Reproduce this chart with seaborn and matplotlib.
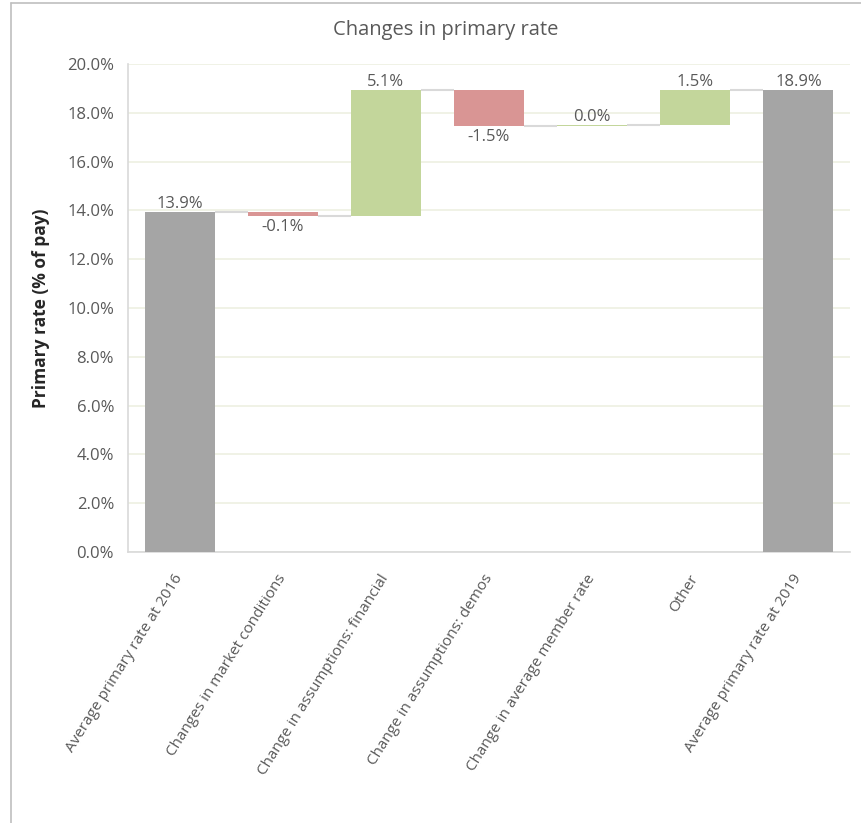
import matplotlib
matplotlib.use("Agg")
import matplotlib.pyplot as plt
import matplotlib.transforms as mtransforms
import seaborn as sns
import numpy as np
import pandas as pd
from matplotlib.lines import Line2D

categories = [
    "Average primary rate at 2016",
    "Changes in market conditions",
    "Change in assumptions: financial",
    "Change in assumptions: demos",
    "Change in average member rate",
    "Other",
    "Average primary rate at 2019",
]
start_value = 13.92
changes = [-0.14, 5.14, -1.48, 0.04, 1.46]
end_value = 18.94
yticks = [0, 2, 4, 6, 8, 10, 12, 14, 16, 18, 20]

GRAY = "#A5A5A5"
RED = "#D99594"
GREEN = "#C3D69B"
TXT = "#595959"

# build waterfall table
bottoms, tops, colors, labels = [0.0], [start_value], [GRAY], [start_value]
level = start_value
levels_after = [start_value]
for c in changes:
    lo, hi = (level + c, level) if c < 0 else (level, level + c)
    bottoms.append(lo); tops.append(hi)
    colors.append(RED if c < 0 else GREEN)
    labels.append(c)
    level += c
    levels_after.append(level)
bottoms.append(0.0); tops.append(end_value); colors.append(GRAY); labels.append(end_value)

df = pd.DataFrame({"cat": categories, "top": tops, "bottom": bottoms})

sns.set_style("white")
plt.rcParams["font.family"] = ["Open Sans", "DejaVu Sans"]

fig = plt.figure(figsize=(8.62, 8.23), dpi=100)
ax = fig.add_axes([128 / 862, 1 - 552 / 823, (850 - 128) / 862, (552 - 64) / 823])

W = 0.68
sns.barplot(data=df, x="cat", y="top", ax=ax, palette=colors, hue="cat", legend=False,
            width=W, saturation=1, zorder=3)
for patch, b, t in zip(ax.patches, bottoms, tops):
    patch.set_y(b)
    patch.set_height(t - b)
    patch.set_linewidth(0)

# connector lines
for i in range(len(categories) - 1):
    y = levels_after[i]
    ax.plot([i + W / 2, i + 1 - W / 2], [y, y], color="#D9D9D9", lw=1.5, zorder=2,
            solid_capstyle="butt")

# data labels
LAB_FS = 12
for i, (lab, b, t) in enumerate(zip(labels, bottoms, tops)):
    txt = f"{lab:.1f}%"
    if i not in (0, len(categories) - 1) and lab < 0:
        ax.annotate(txt, (i, b), xytext=(0, -2), textcoords="offset points",
                    ha="center", va="top", fontsize=LAB_FS, color=TXT)
    else:
        ax.annotate(txt, (i, t), xytext=(0, 0), textcoords="offset points",
                    ha="center", va="bottom", fontsize=LAB_FS, color=TXT)

ax.set_ylim(0, 20)
ax.set_xlim(-0.5, len(categories) - 0.5)
ax.set_yticks(yticks)
ax.set_yticklabels([f"{v:.1f}%" for v in yticks], fontsize=12, color=TXT)
ax.set_xticks(range(len(categories)))
ax.set_xticklabels(categories, rotation=58, ha="right", va="center",
                   rotation_mode="anchor", fontsize=11, color=TXT)
shift = mtransforms.ScaledTranslation(5 / 100, 0, fig.dpi_scale_trans)
for lbl in ax.get_xticklabels():
    lbl.set_transform(lbl.get_transform() + shift)
ax.tick_params(axis="x", pad=17, length=0)
ax.tick_params(axis="y", pad=10, length=0)
ax.set_xlabel("")
ax.set_ylabel("Primary rate (% of pay)", fontsize=12.5, fontweight="bold", color="#262626",
              labelpad=12)
ax.yaxis.grid(True, color="#EEF0E2", lw=1.2, zorder=0)
ax.set_axisbelow(True)
for s in ["top", "right"]:
    ax.spines[s].set_visible(False)
for s in ["left", "bottom"]:
    ax.spines[s].set_color("#D9D9D9")
    ax.spines[s].set_linewidth(1.2)

fig.text(446 / 862, 1 - 30 / 823, "Changes in primary rate", ha="center", va="center",
         fontsize=14.5, color=TXT)

# outer border
fig.add_artist(Line2D([11 / 862, 11 / 862], [0, 1 - 3 / 823], transform=fig.transFigure,
                      color="#BFBFBF", lw=1.2))
fig.add_artist(Line2D([11 / 862, 1], [1 - 3 / 823, 1 - 3 / 823], transform=fig.transFigure,
                      color="#BFBFBF", lw=1.2))

fig.savefig("out.png", dpi=100, facecolor="white")
